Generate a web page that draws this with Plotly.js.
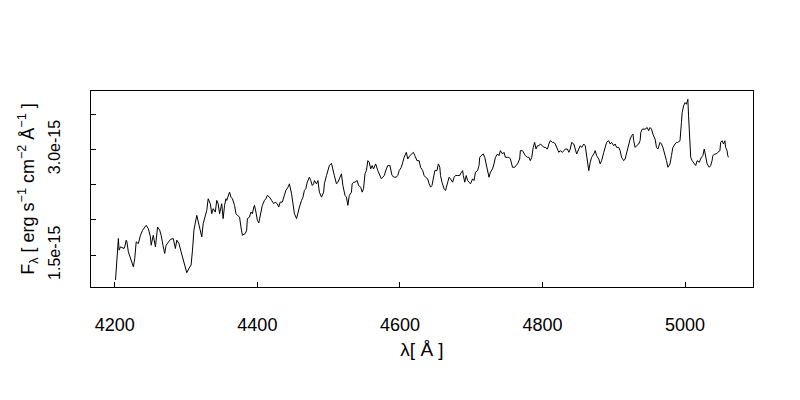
<!DOCTYPE html>
<html>
<head>
<meta charset="utf-8">
<script src="https://cdn.plot.ly/plotly-3.0.1.min.js"></script>
<style>html,body{margin:0;padding:0;background:#fff;}#chart{width:800px;height:400px;}</style>
</head>
<body>
<div id="chart"></div>
<script>
// Wavelength in Angstrom
const wavelength = [
4201,4202,4205,4206,4208,4213,4214,4216,4217,4219,4223,4226,4228,4230,4233,4236,4239,4244,4247,4250,
4251,4254,4257,4260,4263,4265,4268,4270,4272,4275,4278,4282,4285,4287,4290,4293,4296,4299,4301,4304,
4307,4309,4311,4315,4317,4320,4322,4324,4327,4329,4331,4334,4336,4338,4341,4343,4345,4347,4350,
4352,4354,4356,4357,4359,4361,4363,4365,4368,4370,4372,4375,4377,4379,4383,4385,4386,4389,4391,4393,
4395,4396,4398,4400,4402,4405,4407,4410,4412,4414,4417,4420,4423,4425,4428,4430,4432,4435,4438,4440,
4443,4445,4448,4450,4452,4455,4457,4459,4462,4464,4466,4468,4470,4473,4475,4477,4479,4480,4483,4485,
4487,4490,4493,4494,4497,4499,4501,4504,4506,4508,4511,4513,4515,4518,
4520,4521,4523,4525,4527,4529,4532,4533,4535,4537,4540,4542,4545,4547,4549,4551,4553,4555,4557,4559,
4561,4563,4566,4569,4571,4574,4576,4578,4581,4583,4586,4588,4589,4592,4595,4597,4599,4602,4604,4606,
4609,4611,4614,4616,4619,4621,4624,4627,4629,4632,4634,4636,4639,4641,4643,4645,4647,4649,4652,4654,
4656,4657,4659,4662,4664,4667,4669,4671,4674,4676,4678,4681,4684,4685,
4688,4689,4691,4693,4695,4697,4699,4702,4704,4706,4709,4711,4712,4714,4717,4719,4721,4723,4725,4727,
4730,4732,4734,4737,4739,4741,4744,4746,4748,4751,4753,4755,4757,4758,4761,4763,4765,4768,4769,4772,
4774,4776,4779,4781,4783,4785,4787,4789,4791,4793,4795,4797,4800,4802,4804,4807,4809,4811,4814,4816,
4818,4821,4823,4825,4828,4830,4832,4835,4837,4839,4841,4844,4846,4848,4851,4853,
4855,4858,4860,4862,4865,4867,4869,4872,4874,4876,4879,4881,4883,4886,4888,4890,4893,4895,4897,4900,
4902,4904,4907,4909,4911,4914,4916,4918,4921,4923,4925,4927,4928,4930,4932,4935,4937,4938,4940,4942,
4944,4947,4949,4951,4953,4955,4958,4960,4962,4965,4967,4969,4972,4974,4976,4979,4981,4983,4986,4988,
4990,4993,4995,4996,4998,5000,5002,5004,5005,5007,5008,5010,5012,5015,5017,5020,
5023,5025,5027,5029,5031,5034,5036,5038,5039,5042,5044,5046,5049,5050,5052,5054,5056,5057,5059,5060,5061
];

// Flux density in units of 1e-15 erg s^-1 cm^-2 A^-1
const flux_1e15 = [
1.147,1.326,1.736,1.571,1.617,1.594,1.617,1.712,1.688,1.547,1.429,1.335,1.453,1.688,1.665,1.782,1.853,1.923,1.877,1.758,
1.641,1.782,1.617,1.899,1.853,1.782,1.617,1.524,1.641,1.688,1.722,1.736,1.594,1.712,1.665,1.547,1.429,1.288,1.250,1.312,
1.359,1.571,1.853,2.064,1.970,1.853,1.758,1.947,2.040,2.135,2.300,2.229,2.088,2.159,2.111,2.276,2.229,2.088,2.229,
2.018,2.206,2.300,2.276,2.347,2.393,2.323,2.300,2.206,2.088,2.064,2.040,1.899,1.782,1.806,1.853,2.018,2.040,2.111,2.088,
2.182,2.206,2.111,1.994,1.956,2.088,2.206,2.276,2.300,2.347,2.323,2.276,2.229,2.252,2.229,2.182,2.252,2.252,2.347,2.417,
2.464,2.511,2.370,2.229,2.088,2.018,2.111,2.182,2.276,2.323,2.417,2.441,2.534,2.605,2.558,2.488,2.511,2.558,2.511,2.558,
2.393,2.323,2.393,2.511,2.629,2.723,2.770,2.802,2.699,2.629,2.511,2.534,2.582,2.653,
2.488,2.441,2.347,2.323,2.206,2.347,2.393,2.511,2.534,2.534,2.558,2.488,2.464,2.393,2.441,2.653,2.699,2.840,2.817,2.723,
2.770,2.723,2.794,2.699,2.653,2.582,2.605,2.629,2.723,2.770,2.770,2.699,2.629,2.605,2.605,2.629,2.699,2.746,2.840,2.887,
2.958,2.864,2.911,2.935,2.958,2.911,2.840,2.840,2.746,2.699,2.629,2.605,2.582,2.511,2.464,2.488,2.629,2.699,2.699,2.794,
2.746,2.629,2.534,2.441,2.417,2.534,2.605,2.582,2.534,2.605,2.629,2.629,2.629,2.653,
2.699,2.629,2.534,2.629,2.558,2.534,2.511,2.582,2.558,2.676,2.699,2.770,2.887,2.911,2.935,2.887,2.794,2.699,2.605,2.676,
2.723,2.794,2.887,2.935,2.911,2.982,2.935,2.958,2.887,2.887,2.887,2.864,2.794,2.746,2.746,2.770,2.794,2.864,2.982,2.982,
2.935,2.911,2.887,2.887,2.840,2.887,3.028,3.099,3.005,3.052,3.052,3.076,3.052,3.028,3.028,3.005,3.076,3.123,3.099,3.099,
3.076,3.005,2.958,2.982,2.958,2.982,3.005,3.005,2.958,3.005,3.099,3.076,3.005,2.935,3.005,3.052,
3.028,3.076,3.052,2.887,2.699,2.817,2.887,2.935,2.982,2.911,2.864,2.794,2.840,2.958,3.028,3.099,3.123,3.076,3.099,3.052,
3.076,3.028,3.028,2.982,2.887,2.840,2.864,2.958,3.099,3.146,3.193,3.217,3.123,3.028,3.052,3.076,3.123,3.240,3.287,3.287,
3.287,3.310,3.264,3.310,3.287,3.217,3.146,3.028,3.005,3.099,3.076,3.028,2.935,2.840,2.746,2.794,2.911,3.028,3.076,3.099,
3.099,3.123,3.381,3.522,3.617,3.663,3.640,3.711,3.475,3.146,2.887,2.840,2.817,2.770,2.840,2.817,
2.887,2.911,3.005,2.887,2.794,2.746,2.770,2.840,2.911,2.935,2.935,2.958,2.982,3.099,3.123,3.076,3.123,3.028,2.982,2.911,2.887
];

const xTickVals = [4200, 4400, 4600, 4800, 5000];
const xTickText = ["4200", "4400", "4600", "4800", "5000"];
const yTickVals = [1.5, 2.0, 2.5, 3.0, 3.5];
const yTickText = ["1.5e-15", "", "", "3.0e-15", ""];

const font = "Liberation Sans, Arial, Helvetica, sans-serif";

const trace = {
  x: wavelength,
  y: flux_1e15,
  type: "scatter",
  mode: "lines",
  line: {color: "#000000", width: 1},
  hoverinfo: "skip"
};

const layout = {
  width: 800,
  height: 400,
  margin: {l: 91, r: 47, t: 91, b: 113, pad: 0},
  paper_bgcolor: "#ffffff",
  plot_bgcolor: "#ffffff",
  showlegend: false,
  font: {family: font, size: 16, color: "#000000"},
  xaxis: {
    range: [4166.6, 5095.4],
    tickmode: "array",
    tickvals: xTickVals,
    ticktext: xTickText,
    ticks: "inside",
    ticklen: 5,
    tickcolor: "#000000",
    tickwidth: 1,
    showline: true,
    mirror: true,
    linecolor: "#000000",
    linewidth: 1,
    showgrid: false,
    zeroline: false,
    tickfont: {family: font, size: 18, color: "#000000"},
    ticklabelstandoff: 21,
    automargin: false,
    title: {text: "λ[ Å ]", font: {family: font, size: 19, color: "#000000"}, standoff: 9}
  },
  yaxis: {
    range: [1.048, 3.828],
    tickmode: "array",
    tickvals: yTickVals,
    ticktext: yTickText,
    tickangle: -90,
    ticks: "inside",
    ticklen: 5,
    tickcolor: "#000000",
    tickwidth: 1,
    showline: true,
    mirror: true,
    linecolor: "#000000",
    linewidth: 1,
    showgrid: false,
    zeroline: false,
    tickfont: {family: font, size: 16, color: "#000000"},
    ticklabelstandoff: 24,
    automargin: false,
    title: {
      text: "F<sub>λ</sub> [ erg s<sup>−1</sup> cm<sup>−2</sup> Å<sup>−1</sup> ]",
      font: {family: font, size: 18, color: "#000000"},
      standoff: 6
    }
  }
};

Plotly.newPlot("chart", [trace], layout, {displayModeBar: false, staticPlot: true});
</script>
</body>
</html>
